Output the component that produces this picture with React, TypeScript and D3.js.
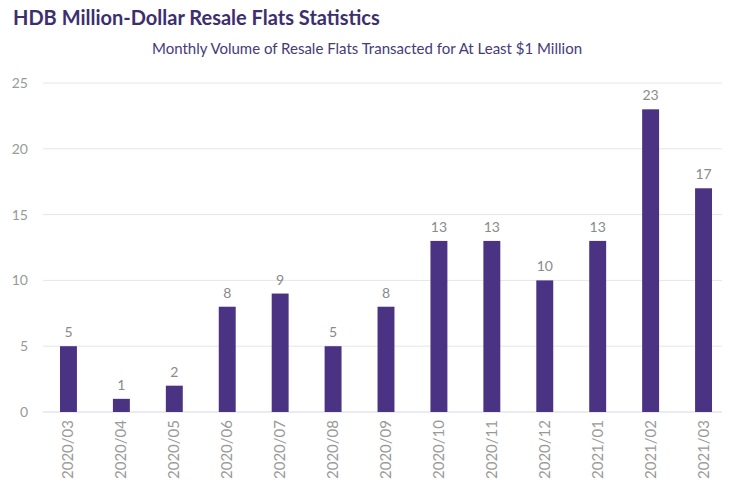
import React from 'react';
import * as d3 from 'd3';

const months = [
  '2020/03', '2020/04', '2020/05', '2020/06', '2020/07', '2020/08', '2020/09',
  '2020/10', '2020/11', '2020/12', '2021/01', '2021/02', '2021/03',
];
const volumes = [5, 1, 2, 8, 9, 5, 8, 13, 13, 10, 13, 23, 17];
const yTicks = [0, 5, 10, 15, 20, 25];

const App = () => {
  const width = 732;
  const height = 494;
  const font = "Lato, 'Noto Sans', sans-serif";

  const x = d3
    .scaleBand()
    .domain(months)
    .range([42, 730])
    .paddingInner(0.68)
    .paddingOuter(0.34);

  const y = d3.scaleLinear().domain([0, 25]).range([412, 83]);

  return (
    <svg
      width={width}
      height={height}
      style={{ position: 'absolute', left: 0, top: 0, background: '#fff' }}
      fontFamily={font}
    >
      <text x={13} y={25} fontSize={20} fontWeight="bold" fill="#3d2f6e">
        HDB Million-Dollar Resale Flats Statistics
      </text>
      <text x={367} y={54} fontSize={15} fill="#463a77" textAnchor="middle">
        Monthly Volume of Resale Flats Transacted for At Least $1 Million
      </text>

      {yTicks.map((t) => (
        <g key={t}>
          <line
            x1={43}
            x2={722}
            y1={y(t)}
            y2={y(t)}
            stroke={t === 0 ? '#d8d4e6' : '#e6e6e6'}
            strokeWidth={1}
          />
          <text
            x={28}
            y={y(t)}
            dy="0.35em"
            textAnchor="end"
            fontSize={14}
            fill="#999"
          >
            {t}
          </text>
        </g>
      ))}

      {months.map((m, i) => {
        const bx = x(m) || 0;
        const cx = bx + x.bandwidth() / 2;
        return (
          <g key={m}>
            <rect
              x={bx}
              y={y(volumes[i])}
              width={x.bandwidth()}
              height={y(0) - y(volumes[i])}
              fill="#4b3384"
            />
            <text
              x={cx}
              y={y(volumes[i]) - 9}
              textAnchor="middle"
              fontSize={14}
              fill="#8a8a8a"
            >
              {volumes[i]}
            </text>
            <text
              transform={`translate(${cx + 5}, 420) rotate(-90)`}
              textAnchor="end"
              fontSize={15}
              fill="#999"
            >
              {m}
            </text>
          </g>
        );
      })}
    </svg>
  );
};

export default App;
